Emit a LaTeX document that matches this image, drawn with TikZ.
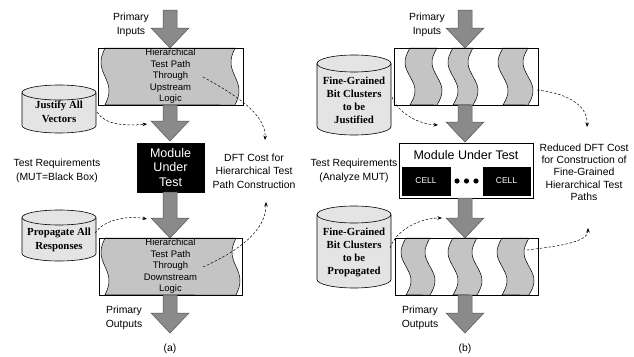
\documentclass[tikz,border=0pt]{standalone}
\usepackage{fontspec}
\setmainfont{Liberation Sans}
\newfontfamily\tmsfont{Liberation Serif}
\usetikzlibrary{arrows.meta}
\definecolor{arrgray}{HTML}{8A8A8A}
\definecolor{arredge}{HTML}{555555}
\definecolor{boxgray}{HTML}{C4C4C4}
\definecolor{cylgray}{HTML}{E4E4E4}
% cylinder: L R T B ry rx
\newcommand\cylpath[6]{%
  \filldraw[cylstyle] (#1,#3+#5) -- (#1,#4-#5) arc[start angle=180,end angle=360,x radius=#6pt,y radius=#5pt] -- (#2,#3+#5) arc[start angle=0,end angle=180,x radius=#6pt,y radius=#5pt] -- cycle;
  \draw[cylstyle,fill=none] (#1,#3+#5) arc[start angle=180,end angle=360,x radius=#6pt,y radius=#5pt];}
% wavy band: xl xr top h amp
\newcommand\waveband[5]{%
  \filldraw[waveg] plot[domain=0:1,samples=40,smooth] ({#1-#5*sin(360*\x)},{#3+#4*\x}) -- plot[domain=1:0,samples=40,smooth] ({#2-#5*sin(360*\x)},{#3+#4*\x}) -- cycle;}
% big arrow: cx ytop yhead ytip
\newcommand\bigarr[4]{%
  \filldraw[bigarrow] (#1-7,#2) -- (#1-7,#3) -- (#1-19,#3) -- (#1,#4) -- (#1+19,#3) -- (#1+7,#3) -- (#1+7,#2) -- cycle;}
\tikzset{
  cylstyle/.style={draw=black,fill=cylgray,line width=0.6pt},
  waveg/.style={draw=black,fill=boxgray,line width=0.5pt},
  bigarrow/.style={draw=arredge,fill=arrgray,line width=0.5pt},
  tbox/.style={draw=black,line width=0.6pt,inner sep=0pt,align=center,font=\fontsize{9.5}{11.5}\selectfont},
  lbl/.style={align=center,inner sep=0pt,font=\fontsize{10.4}{13.5}\selectfont},
  cyltxt/.style={align=center,inner sep=0pt,font=\tmsfont\bfseries\fontsize{10.8}{13.5}\selectfont},
  cellbox/.style={fill=black,draw=black,text=white,inner sep=0pt,font=\fontsize{8.5}{10}\selectfont},
  dashconn/.style={draw=black,line width=0.5pt,dash pattern=on 2.5pt off 1.8pt,-{Stealth[length=4.5pt,width=3.5pt]}}
}
\begin{document}
\begin{tikzpicture}[x=1pt,y=-1pt]
\useasboundingbox (0,0) rectangle (634,356);
% ================= (a) =================
\waveband{105}{235}{48}{57}{4}
\node[tbox,minimum width=145pt,minimum height=57pt] (ua) at (170.5,76.5) {Hierarchical\\Test Path\\Through\\Upstream\\Logic};
\waveband{105}{236}{238}{57}{4}
\node[tbox,minimum width=143pt,minimum height=57pt] (la) at (170.5,266.5) {Hierarchical\\Test Path\\Through\\Downstream\\Logic};
\node[fill=black,draw=black,minimum width=67pt,minimum height=49pt,inner sep=0pt,text=white,align=center,font=\fontsize{12.5}{14.5}\selectfont] (ma) at (170.5,167.5) {Module\\Under\\Test};
\cylpath{22}{96}{85}{133}{7.5}{37}
\node[cyltxt] (ja) at (59,112) {Justify All\\Vectors};
\cylpath{22}{96}{210}{261}{7.5}{37}
\node[cyltxt] (pa) at (59,240) {Propagate All\\Responses};
\bigarr{170}{10}{28}{48}
\bigarr{170}{105}{121}{141}
\bigarr{170}{192}{218}{238}
\bigarr{170}{295}{313}{333}
\node[lbl] (pia) at (131,25) {Primary\\Inputs};
\node[lbl] (poa) at (124,318) {Primary\\Outputs};
\node[lbl] (tra) at (57,171) {Test Requirements\\(MUT=Black Box)};
\node[lbl] (dfta) at (254,171) {DFT Cost for\\Hierarchical Test\\Path Construction};
\node[lbl] (capa) at (170,349) {(a)};
\coordinate (a1s) at (97,112); \coordinate (a1e) at (147,124);
\coordinate (a2s) at (203,77); \coordinate (a2e) at (265,140);
\coordinate (a3s) at (95,233); \coordinate (a3e) at (147,219);
\coordinate (a4s) at (203,267); \coordinate (a4e) at (266,202);
\draw[dashconn] (a1s) .. controls (105,125) and (125,126) .. (a1e);
\draw[dashconn] (a2s) .. controls (240,97) and (266,116) .. (a2e);
\draw[dashconn] (a3s) .. controls (103,221) and (125,215) .. (a3e);
\draw[dashconn] (a4s) .. controls (236,252) and (266,232) .. (a4e);
% ================= (b) =================
\waveband{410}{437}{48}{57}{5}
\waveband{453}{473}{48}{57}{5}
\waveband{503}{528}{48}{57}{5}
\node[tbox,minimum width=144pt,minimum height=57pt] (ub) at (466,76.5) {};
\waveband{406}{430}{238}{57}{5}
\waveband{453}{477}{238}{57}{5}
\waveband{502}{529}{238}{57}{5}
\node[tbox,minimum width=143pt,minimum height=57pt] (lb) at (466.5,266.5) {};
\node[draw=black,fill=white,line width=0.6pt,minimum width=134pt,minimum height=55pt,inner sep=0pt] (mb) at (466,170.5) {};
\node[inner sep=0pt,font=\fontsize{12.5}{14.5}\selectfont] (mbt) at (466,155) {Module Under Test};
\node[cellbox,minimum width=48pt,minimum height=28pt] (c1) at (426,181) {CELL};
\node[cellbox,minimum width=47pt,minimum height=28pt] (c2) at (506.5,181) {CELL};
\foreach \dx/\nm in {457/d1,466.5/d2,476/d3} \fill (\dx,181) circle[radius=2.6pt];
\cylpath{317}{391}{55}{135}{8.5}{37}
\node[cyltxt,font=\tmsfont\bfseries\fontsize{10.8}{13}\selectfont] (jb) at (354,100) {Fine-Grained\\Bit Clusters\\to be\\Justified};
\cylpath{317}{391}{206}{288}{8.5}{37}
\node[cyltxt,font=\tmsfont\bfseries\fontsize{10.8}{13}\selectfont] (pb) at (354,252.5) {Fine-Grained\\Bit Clusters\\to be\\Propagated};
\bigarr{465}{10}{28}{48}
\bigarr{465}{105}{122}{142}
\bigarr{465}{198}{218}{238}
\bigarr{465}{295}{313}{333}
\node[lbl] (pib) at (427,25) {Primary\\Inputs};
\node[lbl] (pob) at (420,318) {Primary\\Outputs};
\node[lbl] (trb) at (354,171) {Test Requirements\\(Analyze MUT)};
\node[lbl,font=\fontsize{10.4}{12.3}\selectfont] (dftb) at (584,172) {Reduced DFT Cost\\for Construction of\\Fine-Grained\\Hierarchical Test\\Paths};
\node[lbl] (capb) at (465,349) {(b)};
\coordinate (b1s) at (392,97); \coordinate (b1e) at (438,125);
\coordinate (b2s) at (537,90); \coordinate (b2e) at (587,127);
\coordinate (b3s) at (390,248); \coordinate (b3e) at (442,218);
\coordinate (b4s) at (527,250); \coordinate (b4e) at (588,228);
\draw[dashconn] (b1s) .. controls (398,113) and (418,124) .. (b1e);
\draw[dashconn] (b2s) .. controls (565,93) and (588,104) .. (b2e);
\draw[dashconn] (b3s) .. controls (396,230) and (420,218) .. (b3e);
\draw[dashconn] (b4s) .. controls (560,246) and (588,242) .. (b4e);
\end{tikzpicture}
\end{document}
